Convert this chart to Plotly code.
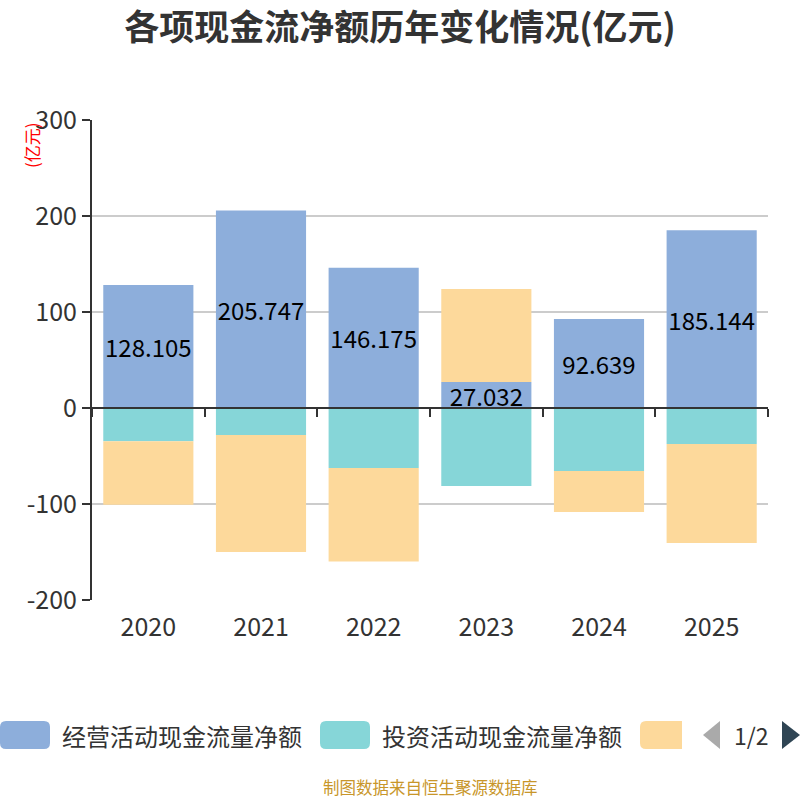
import plotly.graph_objects as go

years = ["2020", "2021", "2022", "2023", "2024", "2025"]
operating = [128.105, 205.747, 146.175, 27.032, 92.639, 185.144]
investing = [-34.7, -28.1, -62.5, -81.3, -65.6, -37.5]
financing = [-66.0, -122.0, -97.5, 97.0, -42.7, -103.0]
series_names = ["经营活动现金流量净额", "投资活动现金流量净额", "筹资活动现金流量净额"]
colors = ["#8DAEDB", "#86D6D8", "#FDD99B"]
y_ticks = [-200, -100, 0, 100, 200, 300]
y_tick_labels = ["-200", "-100", "0", "100", "200", "300"]

FONT = "Noto Sans CJK SC"
W, H = 800, 800
L, R, T, B = 92, 32, 120, 200
PX0, PX1, PY0, PY1 = L, W - R, T, H - B


def px(x):
    return (x - PX0) / (PX1 - PX0)


def py(y):
    return (PY1 - y) / (PY1 - PY0)


fig = go.Figure()
fig.add_trace(go.Bar(
    x=years, y=operating, name=series_names[0], marker_color=colors[0],
    text=[f"{v:.3f}" for v in operating], textposition="inside", textangle=0,
    insidetextanchor="middle", constraintext="none",
    textfont=dict(color="#000", size=24, family=FONT),
    marker_line_width=0,
))
fig.add_trace(go.Bar(x=years, y=investing, name=series_names[1],
                     marker_color=colors[1], marker_line_width=0))
fig.add_trace(go.Bar(x=years, y=financing, name=series_names[2],
                     marker_color=colors[2], marker_line_width=0))
# helper trace for the zero-line category axis
fig.add_trace(go.Scatter(x=years, y=[None] * len(years), xaxis="x2", yaxis="y",
                         showlegend=False, hoverinfo="skip", mode="lines"))

shapes = []
annotations = []


def rrect(x0, y0, x1, y1, r):
    pts = [
        f"M {px(x0 + r)},{py(y0)}",
        f"L {px(x1 - r)},{py(y0)}",
        f"Q {px(x1)},{py(y0)} {px(x1)},{py(y0 + r)}",
        f"L {px(x1)},{py(y1 - r)}",
        f"Q {px(x1)},{py(y1)} {px(x1 - r)},{py(y1)}",
        f"L {px(x0 + r)},{py(y1)}",
        f"Q {px(x0)},{py(y1)} {px(x0)},{py(y1 - r)}",
        f"L {px(x0)},{py(y0 + r)}",
        f"Q {px(x0)},{py(y0)} {px(x0 + r)},{py(y0)}",
        "Z",
    ]
    return " ".join(pts)


# custom legend (first page of a paged legend)
leg_y0, leg_y1 = 721, 749
legend_items = [(0, 50, 60, series_names[0]), (320, 370, 380, series_names[1]), (640, 682, None, None)]
for i, (sx0, sx1, tx, label) in enumerate(legend_items):
    shapes.append(dict(type="path", path=rrect(sx0, leg_y0, sx1 + (6 if i == 2 else 0), leg_y1, 6),
                       xref="paper", yref="paper", fillcolor=colors[i], line_width=0, layer="above"))
    if label:
        annotations.append(dict(x=px(tx), y=py(735), xref="paper", yref="paper", text=label,
                                showarrow=False, xanchor="left", yanchor="middle",
                                font=dict(size=24, color="#333", family=FONT)))
# cover the clipped part of third swatch
shapes.append(dict(type="rect", x0=px(682), x1=px(700), y0=py(715), y1=py(755),
                   xref="paper", yref="paper", fillcolor="white", line_width=0, layer="above"))
# pager
shapes.append(dict(type="path",
                   path=f"M {px(720)},{py(721)} L {px(703)},{py(735)} L {px(720)},{py(749)} Z",
                   xref="paper", yref="paper", fillcolor="#aaaaaa", line_width=0, layer="above"))
shapes.append(dict(type="path",
                   path=f"M {px(782)},{py(721)} L {px(800)},{py(735)} L {px(782)},{py(749)} Z",
                   xref="paper", yref="paper", fillcolor="#2f4554", line_width=0, layer="above"))
annotations.append(dict(x=px(751), y=py(735), xref="paper", yref="paper", text="1/2",
                        showarrow=False, xanchor="center", yanchor="middle",
                        font=dict(size=23, color="#333", family=FONT)))
# unit label
annotations.append(dict(x=px(31), y=py(145), xref="paper", yref="paper", text="(亿元)",
                        showarrow=False, textangle=-90, xanchor="center", yanchor="middle",
                        font=dict(size=17, color="red", family=FONT)))
# source footer
annotations.append(dict(x=0.5, y=py(787), xref="paper", yref="paper",
                        text="制图数据来自恒生聚源数据库", showarrow=False,
                        xanchor="center", yanchor="middle",
                        font=dict(size=16.5, color="#C8962A", family=FONT)))

fig.update_layout(
    width=W, height=H,
    margin=dict(l=L, r=R, t=T, b=B),
    paper_bgcolor="white", plot_bgcolor="white",
    barmode="relative", bargap=0.2,
    showlegend=False,
    title=dict(text="<b>各项现金流净额历年变化情况(亿元)</b>", x=0.5, xanchor="center",
               y=1 - 28 / H, yanchor="middle", yref="container",
               font=dict(size=35, color="#333", family=FONT)),
    font=dict(family=FONT, color="#333"),
    xaxis=dict(type="category", categoryorder="array", categoryarray=years,
               range=[-0.5, 5.5], showline=False, ticks="", showgrid=False,
               ticklabelstandoff=10,
               tickfont=dict(size=25, color="#333", family=FONT), zeroline=False),
    xaxis2=dict(type="category", overlaying="x", matches="x", anchor="free", position=py(408),
                showline=True, linecolor="#333", linewidth=2, ticks="outside",
                tickson="boundaries", ticklen=8, tickwidth=2, tickcolor="#333",
                showticklabels=False, showgrid=False, zeroline=False),
    yaxis=dict(range=[-200, 300], tickvals=y_ticks, ticktext=y_tick_labels,
               showline=True, linecolor="#333",
               linewidth=2, ticks="outside", ticklen=8, tickwidth=2, tickcolor="#333",
               showgrid=True, gridcolor="#cccccc", gridwidth=1.5, zeroline=False,
               tickfont=dict(size=25, color="#333", family=FONT)),
    shapes=shapes, annotations=annotations,
)

fig.write_html("out.html")
